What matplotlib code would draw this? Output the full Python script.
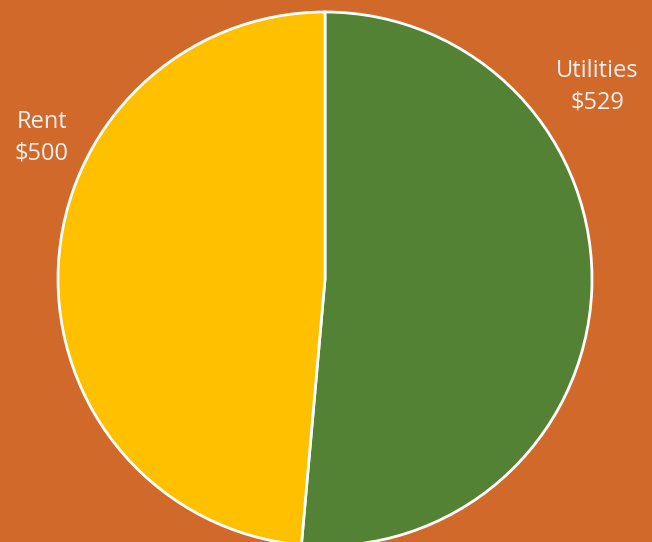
import matplotlib.pyplot as plt

labels = ["Utilities", "Rent"]
values = [529, 500]
colors = ["#548235", "#FFC000"]

bg = "#D0692A"
plt.rcParams["font.family"] = ["Open Sans", "DejaVu Sans"]

fig = plt.figure(figsize=(6.52, 5.42), dpi=100, facecolor=bg)
W, H = 652, 542
cx, cy, r = 325, 279, 267
ax = fig.add_axes([(cx - r) / W, (H - cy - r) / H, 2 * r / W, 2 * r / H])
ax.set_facecolor(bg)

ax.pie(values, colors=colors, startangle=90, counterclock=False,
       wedgeprops=dict(edgecolor="white", linewidth=2))
ax.set_xlim(-1, 1)
ax.set_ylim(-1, 1)
ax.set_aspect("equal")
ax.axis("off")

# label positions in data units (pie radius = 1)
label_pos = [(1.02, 0.72), (-1.06, 0.53)]
for (x, y), name, v in zip(label_pos, labels, values):
    ax.text(x, y, f"{name}\n${v}", ha="center", va="center", fontsize=17,
            color="#F2F2F2", linespacing=1.4, clip_on=False)

fig.savefig("out.png", dpi=100, facecolor=bg)
